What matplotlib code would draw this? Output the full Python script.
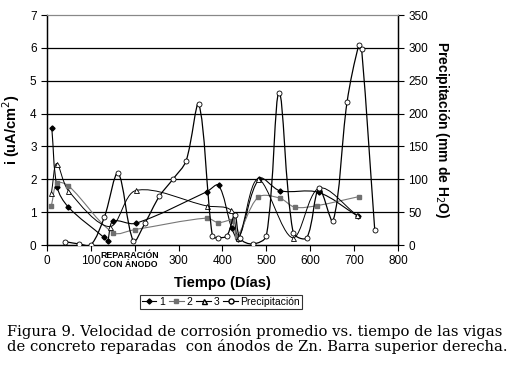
import numpy as np
import matplotlib.pyplot as plt
from matplotlib.path import Path
from matplotlib.patches import PathPatch
from matplotlib.lines import Line2D

plt.rcParams['font.family'] = ['Liberation Sans', 'DejaVu Sans']

# serie 1 (rombos)
dias_1 = [11, 23, 49, 129, 138, 150, 202, 364, 391, 421, 436, 484, 531, 619, 708]
corr_1 = [3.55, 1.77, 1.15, 0.24, 0.13, 0.72, 0.66, 1.62, 1.82, 0.52, 0.18, 2.02, 1.65, 1.60, 0.88]

# serie 2 (cuadrados)
dias_2 = [10, 23, 49, 150, 200, 364, 390, 421, 433, 481, 530, 565, 616, 710]
corr_2 = [1.20, 1.88, 1.80, 0.38, 0.47, 0.82, 0.68, 0.73, 0.27, 1.45, 1.43, 1.15, 1.20, 1.47]

# serie 3 (triangulos)
dias_3 = [10, 22, 49, 143, 203, 364, 419, 436, 481, 560, 620, 707]
corr_3 = [1.57, 2.48, 1.65, 0.56, 1.66, 1.19, 1.06, 0.20, 2.00, 0.22, 1.73, 0.90]

# precipitacion (mm)
dias_p = [42, 74, 100, 131, 162, 197, 223, 256, 288, 317, 346, 377, 390, 410,
          428, 440, 469, 500, 529, 561, 592, 620, 652, 684, 711, 717, 747]
precip = [5, 1.5, 0, 43, 109, 6, 33, 74, 101, 128, 214, 13, 11, 14,
          46, 10, 1.5, 14, 232, 19, 11, 86, 37, 218, 305, 299, 23]

x_ticks = [0, 100, 200, 300, 400, 500, 600, 700, 800]
x_labels = ['0', '100', '', '300', '400', '500', '600', '700', '800']


def suave(ax, x, y, color, lw=0.8):
    # curva suavizada tipo Excel, calculada en pixeles
    p = ax.transData.transform(np.column_stack([x, y]).astype(float))
    n = len(p)
    d = np.r_[np.hypot(*np.diff(p, axis=0).T), 0.0]

    def tang(i):
        a = p[i - 1] if i > 0 else p[i]
        b = p[i + 1] if i + 1 < n else p[i]
        return b - a, (d[i - 1] if i > 0 else 0.0) + (d[i] if i + 1 < n else 0.0)

    verts = [p[0]]
    codes = [Path.MOVETO]
    for i in range(n - 1):
        t0, s0 = tang(i)
        t1, s1 = tang(i + 1)
        c1 = p[i] + t0 * d[i] / max(s0, 1e-9) / 3.0
        c2 = p[i + 1] - t1 * d[i] / max(s1, 1e-9) / 3.0
        verts += [c1, c2, p[i + 1]]
        codes += [Path.CURVE4] * 3
    verts = ax.transData.inverted().transform(np.array(verts))
    ax.add_patch(PathPatch(Path(verts, codes), facecolor='none',
                           edgecolor=color, lw=lw, zorder=3))


fig = plt.figure(figsize=(5.07, 3.66), dpi=100)
ax = fig.add_axes([0.0927, 0.3306, 0.6923, 0.6284])
ax2 = ax.twinx()

ax.set_xlim(0, 800)
ax.set_ylim(0, 7)
ax2.set_ylim(0, 350)

for v in range(1, 7):
    ax.axhline(v, color='black', lw=0.9, zorder=1)

suave(ax, dias_1, corr_1, 'black')
ax.plot(dias_1, corr_1, ls='none', marker='D', ms=2.6, color='black', zorder=4)
suave(ax, dias_2, corr_2, '#777777')
ax.plot(dias_2, corr_2, ls='none', marker='s', ms=3.3, color='#707070', zorder=4)
suave(ax, dias_3, corr_3, 'black', lw=0.7)
ax.plot(dias_3, corr_3, ls='none', marker='^', ms=3.6, mfc='white', mec='black',
        mew=0.6, zorder=4)

suave(ax2, dias_p, precip, 'black', lw=0.9)
ax2.plot(dias_p, precip, ls='none', marker='o', ms=3.6, mfc='white', mec='black',
         mew=0.6, zorder=4)

ax.set_xticks(x_ticks)
ax.set_xticklabels(x_labels)
ax.set_yticks(range(0, 8))
ax2.set_yticks(range(0, 351, 50))
for a in (ax, ax2):
    a.tick_params(labelsize=8.5, length=4, width=0.8, colors='black')
    a.spines['top'].set_color('#888888')
    for s in ('left', 'right', 'bottom'):
        a.spines[s].set_linewidth(0.9)

ax.set_xlabel('Tiempo (Días)', fontsize=10.5, fontweight='bold', labelpad=6)
ax.set_ylabel('i (uA/cm$^2$)', fontsize=10.5, fontweight='bold', labelpad=6)
ax2.set_ylabel('Precipitación (mm de H$_2$O)', fontsize=10, fontweight='bold',
               rotation=-90, labelpad=16)

ax.text(189, -0.17, 'REPARACIÓN\nCON ÁNODO', fontsize=6.3, fontweight='bold',
        ha='center', va='top', linespacing=1.0, clip_on=False, zorder=6)

h = [Line2D([], [], color='black', marker='D', ms=2.6, lw=0.8),
     Line2D([], [], color='#707070', marker='s', ms=3.3, lw=0.8),
     Line2D([], [], color='black', marker='^', ms=3.6, mfc='white', lw=0.8),
     Line2D([], [], color='black', marker='o', ms=3.6, mfc='white', lw=0.8)]
leg = fig.legend(h, ['1', '2', '3', 'Precipitación'], loc='center',
                 bbox_to_anchor=(0.436, 0.176), ncol=4, fontsize=7.5,
                 handlelength=1.4, handletextpad=0.25, columnspacing=0.4,
                 borderpad=0.2, frameon=True, fancybox=False)
leg.get_frame().set_edgecolor('black')
leg.get_frame().set_linewidth(0.8)

fig.text(0.013, 0.074, 'Figura 9. Velocidad de corrosión promedio vs. tiempo de las vigas\n'
         'de concreto reparadas  con ánodos de Zn. Barra superior derecha.',
         fontsize=10.6, family='DejaVu Serif', ha='left', va='center',
         linespacing=1.05)

fig.savefig('out.png', dpi=100)
